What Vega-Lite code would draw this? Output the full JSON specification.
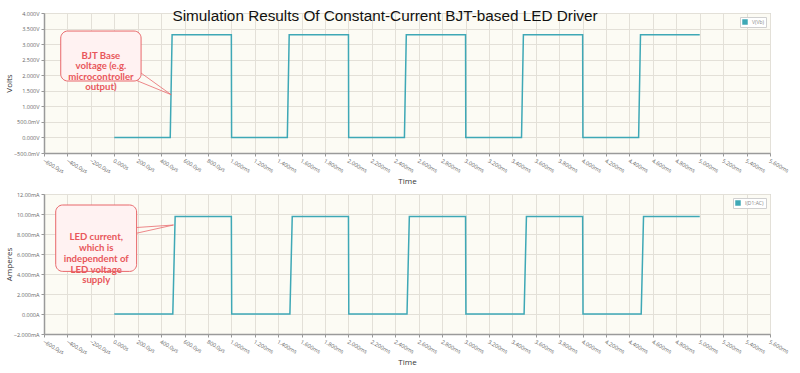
{
  "$schema": "https://vega.github.io/schema/vega-lite/v6.json",
  "background": "white",
  "padding": {"left": 4, "top": 8, "right": 4, "bottom": 4},
  "spacing": 5,
  "resolve": {"scale": {"color": "independent"}, "legend": {"color": "independent"}},
  "config": {
    "font": "Liberation Sans",
    "view": {"stroke": "#b8b8b8", "fill": "#fcfbf4"},
    "axis": {
      "labelFont": "Open Sans", "labelFontSize": 5.5, "labelColor": "#666", "labelOverlap": false,
      "tickColor": "#999", "tickSize": 3, "domainColor": "#9a9a9a", "domainWidth": 1.5,
      "gridColor": "#e3e0d8", "gridWidth": 1,
      "titleFont": "Open Sans", "titleFontSize": 8, "titleFontWeight": "normal", "titleColor": "#333"
    },
    "legend": {
      "orient": "top-right", "offset": 4, "fillColor": "white", "strokeColor": "#d0d0d0",
      "padding": 2, "symbolType": "square", "symbolSize": 30, "symbolStrokeWidth": 0,
      "symbolFillColor": "#3ea8b6", "symbolOpacity": 1,
      "labelFontSize": 5, "labelColor": "#888", "labelFont": "Open Sans", "title": null
    }
  },
  "datasets": {
    "volts": [
      {"t": 0, "v": 0, "s": "V(Vb)"}, {"t": 0.478, "v": 0, "s": "V(Vb)"}, {"t": 0.494, "v": 3.3, "s": "V(Vb)"},
      {"t": 1.0, "v": 3.3, "s": "V(Vb)"}, {"t": 1.002, "v": 0, "s": "V(Vb)"}, {"t": 1.478, "v": 0, "s": "V(Vb)"},
      {"t": 1.494, "v": 3.3, "s": "V(Vb)"}, {"t": 2.0, "v": 3.3, "s": "V(Vb)"}, {"t": 2.002, "v": 0, "s": "V(Vb)"},
      {"t": 2.478, "v": 0, "s": "V(Vb)"}, {"t": 2.494, "v": 3.3, "s": "V(Vb)"}, {"t": 3.0, "v": 3.3, "s": "V(Vb)"},
      {"t": 3.002, "v": 0, "s": "V(Vb)"}, {"t": 3.478, "v": 0, "s": "V(Vb)"}, {"t": 3.494, "v": 3.3, "s": "V(Vb)"},
      {"t": 4.0, "v": 3.3, "s": "V(Vb)"}, {"t": 4.002, "v": 0, "s": "V(Vb)"}, {"t": 4.478, "v": 0, "s": "V(Vb)"},
      {"t": 4.494, "v": 3.3, "s": "V(Vb)"}, {"t": 5.0, "v": 3.3, "s": "V(Vb)"}
    ],
    "amps": [
      {"t": 0, "i": 0, "s": "I(D1:AC)"}, {"t": 0.5, "i": 0, "s": "I(D1:AC)"}, {"t": 0.52, "i": 9.75, "s": "I(D1:AC)"},
      {"t": 1.0, "i": 9.75, "s": "I(D1:AC)"}, {"t": 1.003, "i": 0, "s": "I(D1:AC)"}, {"t": 1.5, "i": 0, "s": "I(D1:AC)"},
      {"t": 1.52, "i": 9.75, "s": "I(D1:AC)"}, {"t": 2.0, "i": 9.75, "s": "I(D1:AC)"}, {"t": 2.003, "i": 0, "s": "I(D1:AC)"},
      {"t": 2.5, "i": 0, "s": "I(D1:AC)"}, {"t": 2.52, "i": 9.75, "s": "I(D1:AC)"}, {"t": 3.0, "i": 9.75, "s": "I(D1:AC)"},
      {"t": 3.003, "i": 0, "s": "I(D1:AC)"}, {"t": 3.5, "i": 0, "s": "I(D1:AC)"}, {"t": 3.52, "i": 9.75, "s": "I(D1:AC)"},
      {"t": 4.0, "i": 9.75, "s": "I(D1:AC)"}, {"t": 4.003, "i": 0, "s": "I(D1:AC)"}, {"t": 4.5, "i": 0, "s": "I(D1:AC)"},
      {"t": 4.52, "i": 9.75, "s": "I(D1:AC)"}, {"t": 5.0, "i": 9.75, "s": "I(D1:AC)"}
    ],
    "boxTop": [{"x1": -0.457, "x2": 0.229, "y1": 3.42, "y2": 1.814, "cx": -0.114, "cy": 2.63, "label": "BJT Base\nvoltage (e.g.\nmicrocontroller\noutput)"}],
    "ptrTop": [{"x1": 0.18, "y1": 1.846, "x2": 0.486, "y2": 1.374}, {"x1": 0.229, "y1": 2.07, "x2": 0.486, "y2": 1.374}],
    "boxBot": [{"x1": -0.5, "x2": 0.191, "y1": 10.9, "y2": 4.26, "cx": -0.154, "cy": 7.67, "label": "LED current,\nwhich is\nindependent of\nLED voltage\nsupply"}],
    "ptrBot": [{"x1": 0.191, "y1": 8.65, "x2": 0.506, "y2": 8.9}, {"x1": 0.191, "y1": 8.08, "x2": 0.506, "y2": 8.9}]
  },
  "vconcat": [
    {
      "width": 726, "height": 140,
      "title": {"text": "Simulation Results Of Constant-Current BJT-based LED Driver", "fontSize": 15.3, "fontWeight": "normal", "color": "#111", "font": "Liberation Sans", "offset": -13, "dx": -22, "anchor": "middle"},
      "layer": [
        {
          "data": {"name": "volts"},
          "mark": {"type": "line", "strokeWidth": 1.5, "interpolate": "linear"},
          "encoding": {
            "x": {"field": "t", "type": "quantitative", "title": "Time",
              "scale": {"domain": [-0.6, 5.6], "nice": false, "zero": false},
              "axis": {"values": [-0.6,-0.4,-0.2,0,0.2,0.4,0.6,0.8,1,1.2,1.4,1.6,1.8,2,2.2,2.4,2.6,2.8,3,3.2,3.4,3.6,3.8,4,4.2,4.4,4.6,4.8,5,5.2,5.4,5.6],
                "tickCount": 100, "labelOverlap": false, "labelAngle": 30, "labelAlign": "left", "labelBaseline": "top", "titlePadding": 3,
                "labelExpr": "abs(datum.value) < 1e-9 ? '0.000s' : abs(datum.value) < 0.999 ? format(datum.value*1000, '.1f') + 'µs' : format(datum.value, '.3f') + 'ms'"}},
            "y": {"field": "v", "type": "quantitative", "title": "Volts",
              "scale": {"domain": [-0.5, 4], "nice": false, "zero": false},
              "axis": {"values": [-0.5,0,0.5,1,1.5,2,2.5,3,3.5,4], "tickCount": 100, "labelOverlap": false, "titlePadding": 0,
                "labelExpr": "abs(datum.value) < 1e-9 ? '0.000V' : abs(datum.value) < 0.999 ? format(datum.value*1000, '.1f') + 'mV' : format(datum.value, '.3f') + 'V'"}},
            "color": {"field": "s", "type": "nominal", "scale": {"domain": ["V(Vb)"], "range": ["#3ea8b6"]}}
          }
        },
        {
          "data": {"name": "ptrTop"},
          "mark": {"type": "rule", "color": "#e86a6d", "strokeWidth": 0.8},
          "encoding": {"x": {"field": "x1", "type": "quantitative"}, "y": {"field": "y1", "type": "quantitative"}, "x2": {"field": "x2"}, "y2": {"field": "y2"}}
        },
        {
          "data": {"name": "boxTop"},
          "mark": {"type": "rect", "fill": "#fff2f2", "stroke": "#e8676a", "strokeWidth": 1, "cornerRadius": 7},
          "encoding": {"x": {"field": "x1", "type": "quantitative"}, "x2": {"field": "x2"}, "y": {"field": "y1", "type": "quantitative"}, "y2": {"field": "y2"}}
        },
        {
          "data": {"name": "boxTop"},
          "mark": {"type": "text", "lineBreak": "\n", "lineHeight": 10.6, "fontSize": 9.6, "fontWeight": "bold", "font": "Lato", "color": "#e8575b", "align": "center", "baseline": "middle"},
          "encoding": {"x": {"field": "cx", "type": "quantitative"}, "y": {"field": "cy", "type": "quantitative"}, "text": {"field": "label"}}
        }
      ]
    },
    {
      "width": 726, "height": 140,
      "layer": [
        {
          "data": {"name": "amps"},
          "mark": {"type": "line", "strokeWidth": 1.5},
          "encoding": {
            "x": {"field": "t", "type": "quantitative", "title": "Time",
              "scale": {"domain": [-0.6, 5.6], "nice": false, "zero": false},
              "axis": {"values": [-0.6,-0.4,-0.2,0,0.2,0.4,0.6,0.8,1,1.2,1.4,1.6,1.8,2,2.2,2.4,2.6,2.8,3,3.2,3.4,3.6,3.8,4,4.2,4.4,4.6,4.8,5,5.2,5.4,5.6],
                "tickCount": 100, "labelOverlap": false, "labelAngle": 30, "labelAlign": "left", "labelBaseline": "top", "titlePadding": 3,
                "labelExpr": "abs(datum.value) < 1e-9 ? '0.000s' : abs(datum.value) < 0.999 ? format(datum.value*1000, '.1f') + 'µs' : format(datum.value, '.3f') + 'ms'"}},
            "y": {"field": "i", "type": "quantitative", "title": "Amperes",
              "scale": {"domain": [-2, 12], "nice": false, "zero": false},
              "axis": {"values": [-2,0,2,4,6,8,10,12], "tickCount": 100, "labelOverlap": false, "titlePadding": 0,
                "labelExpr": "abs(datum.value) < 1e-9 ? '0.000A' : abs(datum.value) >= 10 ? format(datum.value, '.2f') + 'mA' : format(datum.value, '.3f') + 'mA'"}},
            "color": {"field": "s", "type": "nominal", "scale": {"domain": ["I(D1:AC)"], "range": ["#3ea8b6"]}}
          }
        },
        {
          "data": {"name": "ptrBot"},
          "mark": {"type": "rule", "color": "#e86a6d", "strokeWidth": 0.8},
          "encoding": {"x": {"field": "x1", "type": "quantitative"}, "y": {"field": "y1", "type": "quantitative"}, "x2": {"field": "x2"}, "y2": {"field": "y2"}}
        },
        {
          "data": {"name": "boxBot"},
          "mark": {"type": "rect", "fill": "#fff2f2", "stroke": "#e8676a", "strokeWidth": 1, "cornerRadius": 7},
          "encoding": {"x": {"field": "x1", "type": "quantitative"}, "x2": {"field": "x2"}, "y": {"field": "y1", "type": "quantitative"}, "y2": {"field": "y2"}}
        },
        {
          "data": {"name": "boxBot"},
          "mark": {"type": "text", "lineBreak": "\n", "lineHeight": 10.8, "fontSize": 9.6, "fontWeight": "bold", "font": "Lato", "color": "#e8575b", "align": "center", "baseline": "middle"},
          "encoding": {"x": {"field": "cx", "type": "quantitative"}, "y": {"field": "cy", "type": "quantitative"}, "text": {"field": "label"}}
        }
      ]
    }
  ]
}
